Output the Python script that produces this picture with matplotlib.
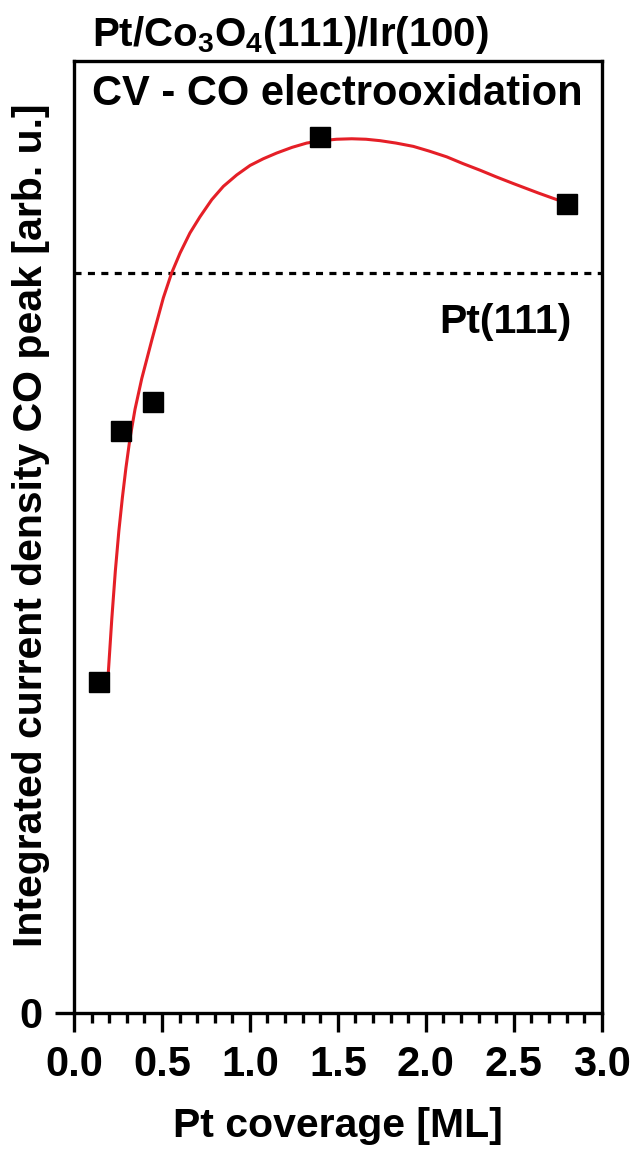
"""CO electrooxidation peak vs Pt coverage on Co3O4(111)/Ir(100)."""

import matplotlib
matplotlib.use("Agg")
import matplotlib.pyplot as plt
from matplotlib.ticker import MultipleLocator, FixedLocator

plt.rcParams["font.family"] = ["Liberation Sans", "DejaVu Sans"]
plt.rcParams["font.weight"] = "bold"
plt.rcParams["mathtext.fontset"] = "custom"
plt.rcParams["mathtext.rm"] = "Liberation Sans:bold"
plt.rcParams["mathtext.bf"] = "Liberation Sans:bold"
plt.rcParams["mathtext.default"] = "bf"

# measured points (arb. units, 0 = baseline)
coverage = [0.14, 0.27, 0.45, 1.40, 2.80]
peak = [0.347, 0.611, 0.642, 0.920, 0.850]

# Pt(111) reference level
pt111_level = 0.777

# fit curve
fit_x = [0.195, 0.215, 0.235, 0.255, 0.275, 0.295, 0.318, 0.347, 0.385,
         0.443, 0.508, 0.555, 0.603, 0.659, 0.716, 0.783, 0.849, 0.925,
         1.001, 1.076, 1.152, 1.240, 1.323, 1.410, 1.493, 1.579, 1.660,
         1.740, 1.830, 1.929, 2.020, 2.119, 2.210, 2.308, 2.400, 2.497,
         2.640, 2.791]
fit_y = [0.357, 0.414, 0.464, 0.506, 0.541, 0.572, 0.603, 0.634, 0.666,
         0.707, 0.751, 0.777, 0.798, 0.819, 0.836, 0.854, 0.868, 0.880,
         0.890, 0.897, 0.903, 0.909, 0.9135, 0.916, 0.9175, 0.918, 0.9175,
         0.916, 0.9135, 0.910, 0.905, 0.899, 0.892, 0.885, 0.878, 0.871,
         0.861, 0.851]

fig = plt.figure(figsize=(6.33, 11.54), dpi=100)
ax = fig.add_axes([0.1169, 0.1224, 0.8337, 0.8250])

ax.axhline(pt111_level, color="black", lw=2.3, linestyle=(0, (2.2, 2.0)))
ax.plot(fit_x, fit_y, color="#e51f27", lw=2.2, zorder=3,
        solid_joinstyle="round")
ax.plot(coverage, peak, linestyle="none", marker="s", markersize=15,
        color="black", zorder=4)

ax.set_xlim(0, 3.0)
ax.set_ylim(0, 1.0)
ax.xaxis.set_major_locator(MultipleLocator(0.5))
ax.xaxis.set_minor_locator(MultipleLocator(0.1))
ax.xaxis.set_major_formatter(plt.FormatStrFormatter("%.1f"))
ax.yaxis.set_major_locator(FixedLocator([0]))
ax.yaxis.set_minor_locator(FixedLocator([]))

ax.tick_params(axis="x", which="major", direction="out", length=14, width=2.4,
               labelsize=30, pad=9)
ax.tick_params(axis="x", which="minor", direction="out", length=7.5, width=2.4)
ax.tick_params(axis="y", which="major", direction="out", length=14, width=2.4,
               labelsize=30, pad=9)
for s in ax.spines.values():
    s.set_linewidth(2.4)

ax.set_xlabel("Pt coverage [ML]", fontsize=29.5, fontweight="bold", labelpad=16)
fig.text(0.049, 0.545, "Integrated current density CO peak [arb. u.]",
         fontsize=29.5, fontweight="bold", rotation=90, ha="center", va="center")

fig.text(0.146, 0.970, "Pt/Co$_3$O$_4$(111)/Ir(100)", fontsize=29,
         fontweight="bold", va="center", ha="left")
ax.text(0.034, 0.9655, "CV - CO electrooxidation", transform=ax.transAxes,
        fontsize=30, fontweight="bold", va="center", ha="left")
ax.text(0.943, pt111_level - 0.0515, "Pt(111)", fontsize=29.5, fontweight="bold",
        va="center", ha="right", transform=ax.get_yaxis_transform())

fig.savefig("out.png", dpi=100)
plt.close(fig)
